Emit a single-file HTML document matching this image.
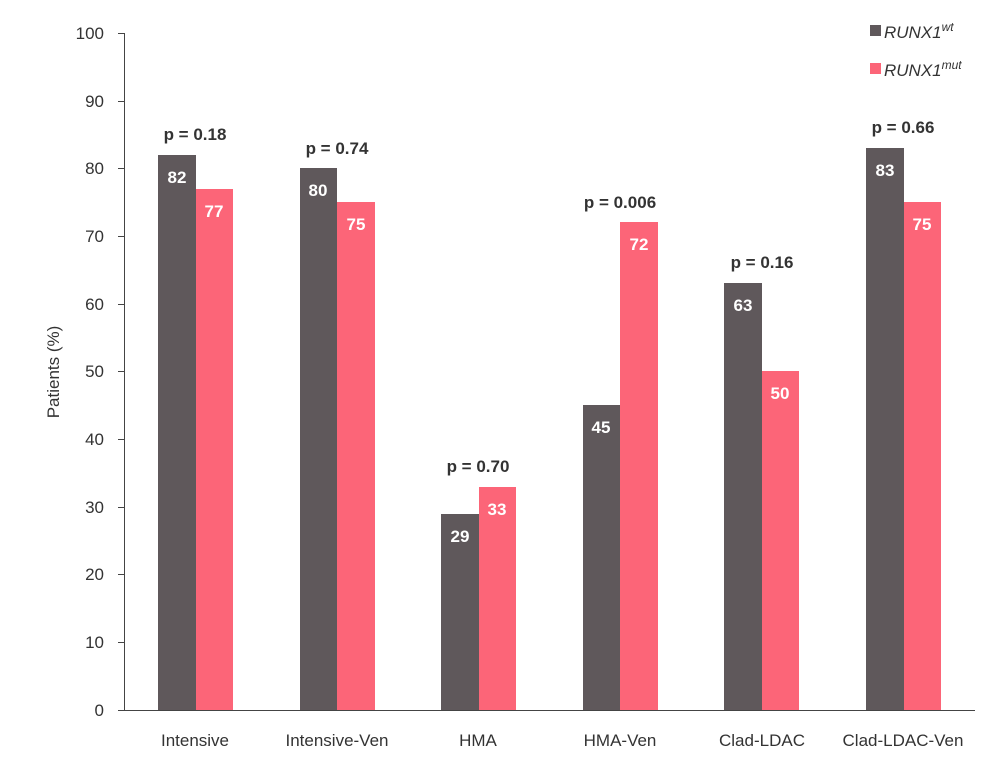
<!DOCTYPE html>
<html><head><meta charset="utf-8"><style>
html,body{margin:0;padding:0;background:#fff}
svg{display:block;font-family:"Liberation Sans",sans-serif}
</style></head><body>
<svg width="1000" height="764" viewBox="0 0 1000 764">
<g fill="#333" font-size="17" text-anchor="end">
<text x="104" y="39">100</text><text x="104" y="107">90</text><text x="104" y="174">80</text>
<text x="104" y="242">70</text><text x="104" y="310">60</text><text x="104" y="377">50</text>
<text x="104" y="445">40</text><text x="104" y="513">30</text><text x="104" y="580">20</text>
<text x="104" y="648">10</text><text x="104" y="716">0</text>
</g>
<g stroke="#444" stroke-width="1">
<line x1="124.5" y1="33" x2="124.5" y2="710"/>
<line x1="124" y1="710.5" x2="975" y2="710.5"/>
<line x1="118" y1="33.5" x2="124" y2="33.5"/><line x1="118" y1="101.5" x2="124" y2="101.5"/>
<line x1="118" y1="168.5" x2="124" y2="168.5"/><line x1="118" y1="236.5" x2="124" y2="236.5"/>
<line x1="118" y1="304.5" x2="124" y2="304.5"/><line x1="118" y1="371.5" x2="124" y2="371.5"/>
<line x1="118" y1="439.5" x2="124" y2="439.5"/><line x1="118" y1="507.5" x2="124" y2="507.5"/>
<line x1="118" y1="574.5" x2="124" y2="574.5"/><line x1="118" y1="642.5" x2="124" y2="642.5"/>
<line x1="118" y1="710.5" x2="124" y2="710.5"/>
</g>
<text transform="translate(59,372) rotate(-90)" text-anchor="middle" font-size="17" fill="#333">Patients (%)</text>
<g>
<rect x="158" y="155" width="38" height="555" fill="#5f585b"/><rect x="196" y="189" width="37" height="521" fill="#fc6578"/>
<rect x="300" y="168" width="37" height="542" fill="#5f585b"/><rect x="337" y="202" width="38" height="508" fill="#fc6578"/>
<rect x="441" y="514" width="38" height="196" fill="#5f585b"/><rect x="479" y="487" width="37" height="223" fill="#fc6578"/>
<rect x="583" y="405" width="37" height="305" fill="#5f585b"/><rect x="620" y="222" width="38" height="488" fill="#fc6578"/>
<rect x="724" y="283" width="38" height="427" fill="#5f585b"/><rect x="762" y="371" width="37" height="339" fill="#fc6578"/>
<rect x="866" y="148" width="38" height="562" fill="#5f585b"/><rect x="904" y="202" width="37" height="508" fill="#fc6578"/>
</g>
<g fill="#fff" font-size="17" font-weight="bold" text-anchor="middle">
<text x="177" y="183">82</text><text x="214" y="217">77</text>
<text x="318" y="196">80</text><text x="356" y="230">75</text>
<text x="460" y="542">29</text><text x="497" y="515">33</text>
<text x="601" y="433">45</text><text x="639" y="250">72</text>
<text x="743" y="311">63</text><text x="780" y="399">50</text>
<text x="885" y="176">83</text><text x="922" y="230">75</text>
</g>
<g fill="#333" font-size="17" font-weight="bold" text-anchor="middle">
<text x="195" y="140">p = 0.18</text><text x="337" y="154">p = 0.74</text>
<text x="478" y="472">p = 0.70</text><text x="620" y="208">p = 0.006</text>
<text x="762" y="268">p = 0.16</text><text x="903" y="133">p = 0.66</text>
</g>
<g fill="#333" font-size="17" text-anchor="middle">
<text x="195" y="746">Intensive</text><text x="337" y="746">Intensive-Ven</text>
<text x="478" y="746">HMA</text><text x="620" y="746">HMA-Ven</text>
<text x="762" y="746">Clad-LDAC</text><text x="903" y="746">Clad-LDAC-Ven</text>
</g>
<rect x="870" y="25" width="11" height="11" fill="#5f585b"/>
<rect x="870" y="63" width="11" height="11" fill="#fc6578"/>
<text x="884" y="38" font-size="17" font-style="italic" fill="#333">RUNX1<tspan font-size="12" dy="-7">wt</tspan></text>
<text x="884" y="76" font-size="17" font-style="italic" fill="#333">RUNX1<tspan font-size="12" dy="-7">mut</tspan></text>
</svg>
</body></html>
